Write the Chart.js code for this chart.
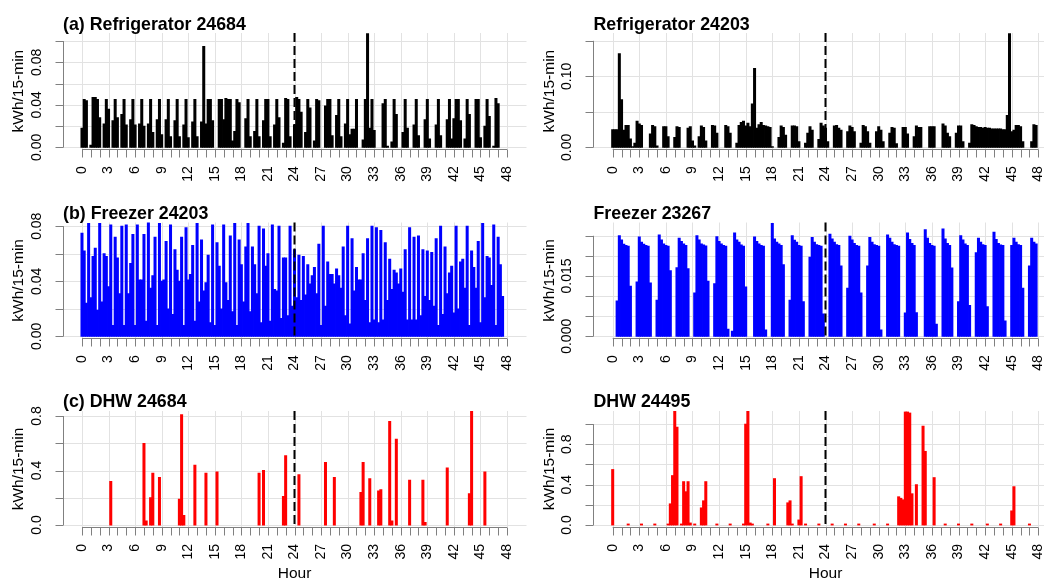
<!DOCTYPE html>
<html>
<head>
<meta charset="utf-8">
<script src="https://cdn.jsdelivr.net/npm/chart.js@4"></script>
<style>
  html, body { margin: 0; padding: 0; background: #fff; overflow: hidden; }
  #wrap { position: relative; width: 1044px; height: 579px; }
  #wrap canvas { position: absolute; }
</style>
</head>
<body>
<div id="wrap"></div>
<script>
// --- DATA: kWh per 15-min interval, 192 slots = 48 hours ---
const slotsPerHour = 4;
const hourLabels = ['0','3','6','9','12','15','18','21','24','27','30','33','36','39','42','45','48'];

const fridge24684 = [
  0.018,0.045,0.044,0,0.002,0.047,0.047,0.045,0.028,0,0.022,0.045,0.036,0,0.025,0.045,
  0.028,0,0.031,0.045,0.021,0,0.026,0.045,0.021,0,0.022,0.045,0.020,0,0.022,0.045,
  0.014,0,0.026,0.045,0.012,0,0.026,0.045,0.010,0,0.025,0.045,0.010,0,0.021,0.045,
  0.009,0,0.024,0.045,0.010,0,0.024,0.095,0.022,0.045,0.045,0.025,0,0,0.045,0.045,
  0.026,0.046,0.045,0.045,0.006,0.015,0.045,0.042,0,0,0.027,0.045,0.010,0,0.015,0.045,
  0.010,0,0.025,0.045,0.045,0.010,0,0.021,0.045,0.028,0,0.004,0.046,0.045,0.010,0,
  0.021,0.047,0.045,0.033,0,0.014,0.045,0.037,0,0.006,0.045,0.044,0,0,0.039,0.045,
  0.045,0.011,0,0.030,0.045,0.010,0,0.022,0.045,0.012,0.017,0.017,0.045,0,0,0.007,
  0.045,0.107,0.018,0.045,0.016,0,0,0,0.041,0.045,0.001,0,0.005,0.045,0.031,0,
  0,0.014,0.045,0.018,0,0,0.021,0.045,0.011,0,0,0.026,0.045,0.008,0,0,
  0.021,0.045,0.011,0,0,0.026,0.045,0.008,0.027,0.045,0.045,0.025,0,0.008,0.045,0.031,
  0,0,0.045,0.045,0.009,0,0.020,0.045,0.029,0,0.001,0.046,0.041,0,0,0
];

const fridge24203 = [
  0.025,0.025,0.025,0.132,0.067,0.024,0.031,0.031,0.012,0.001,0.006,0.037,0.033,0.031,0,0,
  0,0.019,0.031,0.029,0.002,0,0,0.029,0.029,0.015,0,0,0.014,0.029,0.028,0,
  0,0,0.027,0.029,0.009,0.002,0,0.015,0.030,0.028,0.009,0,0,0.031,0.030,0.020,
  0,0,0,0.031,0.029,0.020,0,0,0.006,0.031,0.035,0.037,0.030,0.034,0.029,0.061,
  0.111,0.027,0.032,0.035,0.031,0.030,0.029,0.028,0.001,0,0,0.014,0.030,0.028,0.017,0,
  0,0.030,0.030,0.029,0.008,0,0,0.006,0.020,0.029,0.024,0,0,0.011,0.034,0.030,
  0.027,0.008,0,0,0.030,0.031,0.027,0.024,0,0,0.022,0.030,0.028,0.022,0,0,
  0.006,0.031,0.029,0.022,0.006,0,0,0.022,0.029,0.024,0.008,0,0,0.020,0.028,0.027,
  0.005,0,0,0.028,0.028,0.019,0,0,0.015,0.030,0.028,0.028,0,0,0,0.029,
  0.029,0.029,0,0,0,0.033,0.030,0.020,0.015,0,0,0.020,0.030,0.030,0.008,0,
  0,0.006,0.032,0.031,0.029,0.028,0.028,0.027,0.028,0.027,0.027,0.026,0.026,0.026,0.026,0.026,
  0.025,0.025,0.045,0.160,0.022,0.024,0.031,0.031,0.029,0.008,0,0,0,0.008,0.032,0.031
];

const freezer24203 = [
  0.075,0.062,0.024,0.082,0.028,0.058,0.064,0.019,0.082,0.025,0.060,0.058,0.036,0.081,0.008,0.072,
  0.057,0.031,0.080,0.008,0.081,0.031,0.053,0.074,0.008,0.081,0.041,0.041,0.074,0.011,0.083,0.035,
  0.044,0.072,0.008,0.082,0.040,0.041,0.069,0.020,0.081,0.016,0.063,0.048,0.040,0.072,0.008,0.079,
  0.041,0.045,0.066,0.011,0.082,0.025,0.070,0.033,0.039,0.059,0.010,0.081,0.008,0.068,0.051,0.020,
  0.081,0.039,0.026,0.073,0.018,0.082,0.008,0.070,0.052,0.025,0.065,0.082,0.018,0.065,0.052,0.031,
  0.080,0.010,0.078,0.051,0.060,0.011,0.081,0.034,0.033,0.080,0.013,0.057,0.057,0.015,0.080,0.022,
  0.063,0.028,0.059,0.026,0.058,0.030,0.052,0.038,0.044,0.050,0.031,0.067,0.008,0.080,0.022,0.054,
  0.045,0.045,0.038,0.049,0.044,0.035,0.065,0.015,0.080,0.009,0.071,0.033,0.050,0.041,0.041,0.060,
  0.026,0.071,0.010,0.080,0.012,0.079,0.010,0.077,0.012,0.068,0.026,0.056,0.034,0.048,0.046,0.038,
  0.049,0.032,0.063,0.012,0.079,0.012,0.072,0.012,0.073,0.015,0.063,0.029,0.062,0.026,0.061,0.022,
  0.071,0.008,0.080,0.016,0.065,0.031,0.046,0.051,0.017,0.080,0.020,0.054,0.056,0.035,0.080,0.008,
  0.062,0.050,0.035,0.069,0.010,0.082,0.028,0.058,0.057,0.037,0.081,0.008,0.072,0.052,0.029,0
];

const freezer23267 = [
  0,0,0.0088,0.025,0.024,0.0229,0.0226,0.0224,0.0125,0,0,0.0135,0.0247,0.0234,0.0229,0.0226,
  0.0224,0.0133,0,0,0.009,0.0252,0.024,0.023,0.0226,0.0224,0.0163,0,0,0.0171,0.0244,0.0236,
  0.023,0.0226,0.0168,0,0,0.0108,0.025,0.024,0.023,0.0227,0.0225,0.0137,0,0,0.0131,0.0248,
  0.0236,0.023,0.0226,0.0224,0.0018,0,0.0013,0.0257,0.024,0.0234,0.0227,0.0224,0.0123,0,0,0,
  0.0247,0.0236,0.023,0.0226,0.0224,0.0016,0,0,0.0281,0.0242,0.0234,0.023,0.0226,0.0178,0,0,
  0.009,0.025,0.0239,0.0234,0.0226,0.0224,0.0086,0,0,0.0197,0.0246,0.0234,0.0228,0.0226,0.0224,0.0056,
  0,0,0.0254,0.0242,0.0234,0.0228,0.0226,0.0175,0,0,0.012,0.0249,0.024,0.0231,0.0226,0.0224,
  0.0108,0,0,0.0175,0.0246,0.0234,0.0228,0.0226,0.0224,0.0016,0,0,0.0252,0.0244,0.0234,0.0228,
  0.0226,0.0224,0,0,0.0058,0.0257,0.0241,0.0231,0.0226,0.0059,0,0,0,0.0265,0.0244,0.0231,
  0.0226,0.0224,0.003,0,0,0.0267,0.0242,0.0231,0.0226,0.017,0,0,0.0086,0.025,0.024,0.023,
  0.0226,0.0077,0,0,0.0208,0.0244,0.0234,0.0228,0.0226,0.0074,0,0,0.0259,0.0241,0.0231,0.0227,
  0.0226,0.0038,0,0,0.0226,0.0244,0.0234,0.0228,0.0226,0.012,0,0,0.0175,0.0244,0.0234,0.023
];

const dhw24684 = [
  0,0,0,0,0,0,0,0,0,0,0,0,0,0.32,0,0,
  0,0,0,0,0,0,0,0,0,0,0,0,0.60,0.03,0,0.20,
  0.38,0,0,0.35,0,0,0,0,0,0,0,0,0.19,0.81,0.07,0,
  0,0,0,0.44,0,0,0,0,0.38,0,0,0,0,0.39,0,0,
  0,0,0,0,0,0,0,0,0,0,0,0,0,0,0,0,
  0.38,0,0.40,0,0,0,0,0,0,0,0,0.21,0.51,0,0,0,
  0,0,0.37,0,0,0,0,0,0,0,0,0,0,0,0.46,0,
  0,0,0.35,0,0,0,0,0,0,0,0,0,0,0,0.24,0.46,
  0,0,0.34,0,0,0,0.25,0.26,0,0,0,0.76,0.03,0,0.63,0,
  0,0,0,0,0.33,0,0,0,0,0,0.33,0.02,0,0,0,0,
  0,0,0,0,0,0.42,0,0,0,0,0,0,0,0,0,0.23,
  0.836,0,0,0,0,0,0.39,0,0,0,0,0,0,0,0,0
];

const dhw24495 = [
  0.55,0,0,0,0,0,0,0.01,0,0,0,0,0,0.01,0,0,
  0,0,0,0.01,0,0,0,0,0,0.01,0.21,0.49,1.13,0.97,0,0.01,
  0.43,0.33,0.43,0.02,0,0.01,0,0,0.17,0.24,0.43,0,0,0,0,0.01,
  0,0,0,0,0,0.01,0,0,0,0,0,0.01,1.0,1.13,0.02,0.01,
  0,0,0,0,0,0,0.01,0,0,0.46,0,0,0,0,0,0.22,
  0.24,0.01,0,0,0.05,0.48,0,0.01,0,0,0,0,0,0.01,0,0,
  0,0,0,0.01,0,0,0,0,0,0.01,0,0,0,0,0,0.01,
  0,0,0,0,0,0,0.01,0,0,0,0,0,0.01,0,0,0,
  0,0.28,0.265,0.25,1.12,1.12,1.11,0.31,0,0.40,0,0,0.98,0.73,0,0,
  0,0.47,0,0,0,0,0.01,0,0,0,0,0,0.01,0,0,0,
  0,0,0.01,0,0,0,0,0,0,0.01,0,0,0,0,0,0.01,
  0,0,0,0,0.14,0.38,0,0,0,0,0,0,0.01,0,0,0
];

// y tick values (grid) and the labelled ones
const yTicksA = [0, 0.02, 0.04, 0.06, 0.08, 0.10];
const yLabelsA = ['0.00', '0.04', '0.08'];
const yTicksB = [0, 0.05, 0.10, 0.15];
const yLabelsB = ['0.00', '0.10'];
const yTicksC = [0, 0.02, 0.04, 0.06, 0.08];
const yLabelsC = ['0.00', '0.04', '0.08'];
const yTicksD = [0, 0.005, 0.010, 0.015, 0.020, 0.025];
const yLabelsD = ['0.000', '0.015'];
const yTicksE = [0, 0.2, 0.4, 0.6, 0.8];
const yLabelsE = ['0.0', '0.4', '0.8'];
const yTicksF = [0, 0.2, 0.4, 0.6, 0.8, 1.0];
const yLabelsF = ['0.0', '0.4', '0.8'];

document.addEventListener('DOMContentLoaded', function() {

    // --- layout (page pixels) ---
    const cols = [
        { canvasLeft: 0,   width: 530, plotLeft: 62.5, plotRight: 526.5, xMin: -2.2,  xMax: 50.2 },
        { canvasLeft: 530, width: 514, plotLeft: 593,  plotRight: 1044,  xMin: -2.22, xMax: 48.64 }
    ];
    const rows = [
        { canvasTop: 0,   height: 192, plotTop: 33,    plotBottom: 149.3, titleBase: 29.5 },
        { canvasTop: 192, height: 190, plotTop: 222.5, plotBottom: 338.3, titleBase: 218.5 },
        { canvasTop: 382, height: 197, plotTop: 411,   plotBottom: 527,   titleBase: 407 }
    ];

    const panels = [
        { title: '(a) Refrigerator 24684', values: fridge24684,  color: '#000000', col: 0, row: 0, yMax: 0.1076, ticks: yTicksA, labels: yLabelsA },
        { title: 'Refrigerator 24203',     values: fridge24203,  color: '#000000', col: 1, row: 0, yMax: 0.161,  ticks: yTicksB, labels: yLabelsB },
        { title: '(b) Freezer 24203',      values: freezer24203, color: '#0000ff', col: 0, row: 1, yMax: 0.0827, ticks: yTicksC, labels: yLabelsC },
        { title: 'Freezer 23267',          values: freezer23267, color: '#0000ff', col: 1, row: 1, yMax: 0.0283, ticks: yTicksD, labels: yLabelsD },
        { title: '(c) DHW 24684',          values: dhw24684,     color: '#ff0000', col: 0, row: 2, yMax: 0.837,  ticks: yTicksE, labels: yLabelsE },
        { title: 'DHW 24495',              values: dhw24495,     color: '#ff0000', col: 1, row: 2, yMax: 1.13,   ticks: yTicksF, labels: yLabelsF }
    ];

    const FONT = '"Liberation Sans", Arial, sans-serif';
    const AXIS = '#808080';
    const GRID = '#e2e2e2';

    // R-like axes, grid, titles drawn around the Chart.js plot area
    function rPlot(p, row) {
        return {
            id: 'rPlot',
            beforeDatasetsDraw(chart) {
                const ctx = chart.ctx, a = chart.chartArea, xs = chart.scales.x, ys = chart.scales.y;
                ctx.save();
                ctx.strokeStyle = GRID;
                ctx.lineWidth = 1;
                ctx.beginPath();
                p.ticks.forEach(v => {
                    const y = Math.round(ys.getPixelForValue(v)) + 0.5;
                    ctx.moveTo(a.left, y); ctx.lineTo(a.right, y);
                });
                hourLabels.forEach(h => {
                    const x = Math.round(xs.getPixelForValue(+h)) + 0.5;
                    ctx.moveTo(x, a.top); ctx.lineTo(x, a.bottom);
                });
                ctx.stroke();
                ctx.restore();
            },
            afterDatasetsDraw(chart) {
                const ctx = chart.ctx, a = chart.chartArea, xs = chart.scales.x, ys = chart.scales.y;
                ctx.save();

                // midnight marker
                const x24 = xs.getPixelForValue(24);
                ctx.strokeStyle = '#000';
                ctx.lineWidth = 2;
                ctx.setLineDash([9, 4]);
                ctx.beginPath();
                ctx.moveTo(x24, a.top); ctx.lineTo(x24, a.bottom);
                ctx.stroke();
                ctx.setLineDash([]);

                // y axis
                ctx.strokeStyle = AXIS;
                ctx.lineWidth = 1;
                const yx = Math.round(a.left) + 0.5;
                ctx.beginPath();
                ctx.moveTo(yx, ys.getPixelForValue(0));
                ctx.lineTo(yx, ys.getPixelForValue(p.ticks[p.ticks.length - 1]));
                p.ticks.forEach(v => {
                    const y = Math.round(ys.getPixelForValue(v)) + 0.5;
                    ctx.moveTo(yx - 8, y); ctx.lineTo(yx, y);
                });
                // x axis
                const xy = Math.round(a.bottom) + 0.5;
                ctx.moveTo(xs.getPixelForValue(0), xy);
                ctx.lineTo(xs.getPixelForValue(48), xy);
                for (let h = 0; h <= 48; h++) {
                    const x = Math.round(xs.getPixelForValue(h)) + 0.5;
                    ctx.moveTo(x, xy); ctx.lineTo(x, xy + 8);
                }
                ctx.stroke();

                ctx.fillStyle = '#000';
                // y tick labels (rotated, as in R)
                ctx.font = '14px ' + FONT;
                ctx.textAlign = 'center';
                ctx.textBaseline = 'middle';
                p.labels.forEach(t => {
                    ctx.save();
                    ctx.translate(a.left - 25.7, ys.getPixelForValue(+t));
                    ctx.rotate(-Math.PI / 2);
                    ctx.fillText(t, 0, 0);
                    ctx.restore();
                });
                // x tick labels every 3 h
                ctx.textAlign = 'right';
                hourLabels.forEach(t => {
                    ctx.save();
                    ctx.translate(xs.getPixelForValue(+t), a.bottom + 17);
                    ctx.rotate(-Math.PI / 2);
                    ctx.fillText(t, 0, 0);
                    ctx.restore();
                });
                // y title
                ctx.font = '15.5px ' + FONT;
                ctx.textAlign = 'center';
                ctx.save();
                ctx.translate(a.left - 43.7, (a.top + a.bottom) / 2);
                ctx.rotate(-Math.PI / 2);
                ctx.fillText('kWh/15-min', 0, 0);
                ctx.restore();
                // bottom row gets the Hour label
                if (p.row === 2) {
                    ctx.textBaseline = 'alphabetic';
                    ctx.fillText('Hour', (xs.getPixelForValue(-2.2) + xs.getPixelForValue(50.2)) / 2, 577.5 - row.canvasTop);
                }
                // panel title
                ctx.font = 'bold 17.8px ' + FONT;
                ctx.textAlign = 'left';
                ctx.textBaseline = 'alphabetic';
                ctx.fillText(p.title, a.left + 0.5, row.titleBase - row.canvasTop);
                ctx.restore();
            }
        };
    }

    const wrap = document.getElementById('wrap');

    panels.forEach(p => {
        const c = cols[p.col], r = rows[p.row];
        const canvas = document.createElement('canvas');
        canvas.width = c.width;
        canvas.height = r.height;
        canvas.style.left = c.canvasLeft + 'px';
        canvas.style.top = r.canvasTop + 'px';
        wrap.appendChild(canvas);

        // zero sits 2px above the x axis line
        const h = r.plotBottom - r.plotTop;
        const yMin = -p.yMax * 2 / (h - 2);

        new Chart(canvas.getContext('2d'), {
            type: 'bar',
            data: {
                datasets: [{
                    data: p.values.map((v, k) => ({ x: k / slotsPerHour, y: v })),
                    backgroundColor: p.color,
                    borderWidth: 0,
                    // close the seams between neighbours, but keep zero slots empty
                    inflateAmount: (ctx) => (ctx.raw && ctx.raw.y > 0 ? 0.4 : 0),
                    barPercentage: 1,
                    categoryPercentage: 1
                }]
            },
            options: {
                responsive: false,
                animation: false,
                events: [],
                layout: {
                    padding: {
                        left: c.plotLeft - c.canvasLeft,
                        right: c.canvasLeft + c.width - c.plotRight,
                        top: r.plotTop - r.canvasTop,
                        bottom: r.canvasTop + r.height - r.plotBottom
                    }
                },
                plugins: { legend: { display: false }, tooltip: { enabled: false } },
                scales: {
                    x: { type: 'linear', min: c.xMin, max: c.xMax, offset: false, display: false },
                    y: { type: 'linear', min: yMin, max: p.yMax, display: false }
                }
            },
            plugins: [rPlot(p, r)]
        });
    });
});
</script>
</body>
</html>
